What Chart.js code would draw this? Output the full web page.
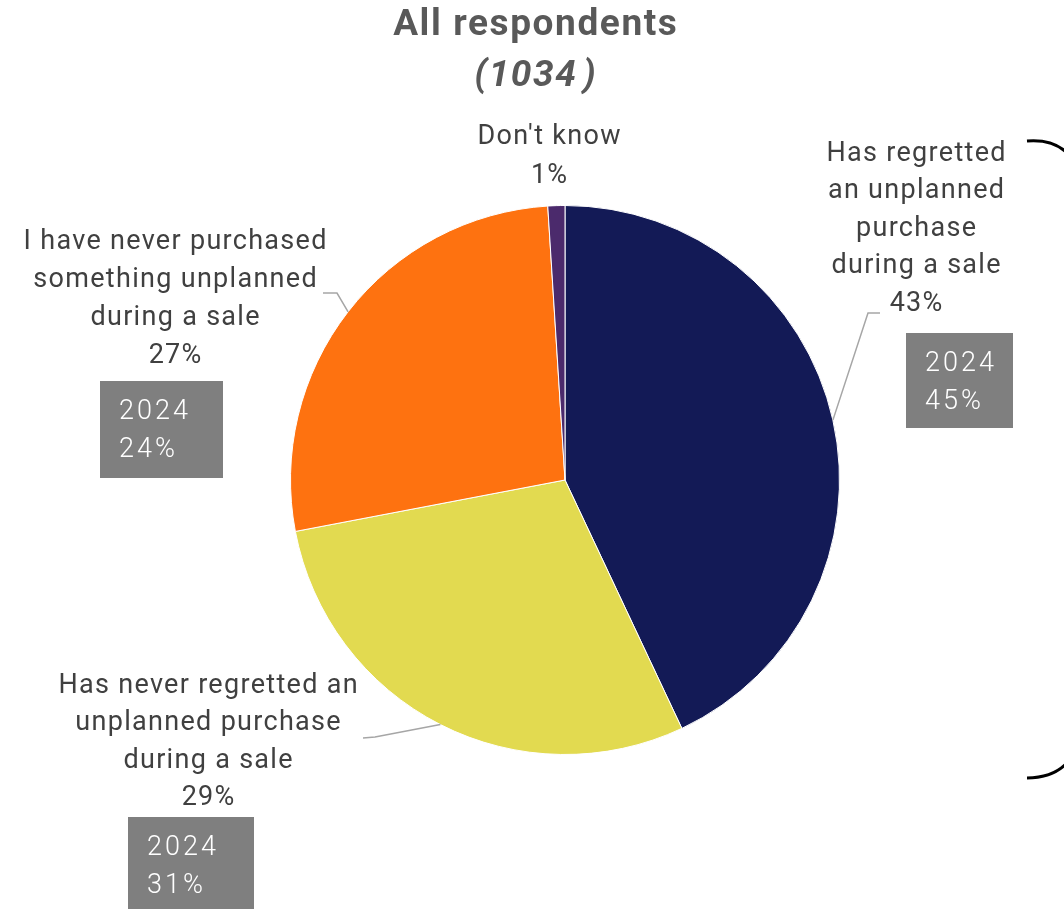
<!DOCTYPE html>
<html>
<head>
<meta charset="utf-8">
<script src="https://cdn.jsdelivr.net/npm/chart.js@4"></script>
<style>
  html, body { margin: 0; padding: 0; background: #fff; }
  #wrap { width: 1064px; height: 909px; position: relative; }
</style>
</head>
<body>
<div id="wrap"><canvas id="regret-pie"></canvas></div>
<script>
// survey shares, current wave and 2024 comparison
const categories = [
    "Has regretted an unplanned purchase during a sale",
    "Has never regretted an unplanned purchase during a sale",
    "I have never purchased something unplanned during a sale",
    "Don't know"
];
const labelLines = [
    ["Has regretted", "an unplanned", "purchase", "during a sale"],
    ["Has never regretted an", "unplanned purchase", "during a sale"],
    ["I have never purchased", "something unplanned", "during a sale"],
    ["Don't know"]
];
const shares = [43, 29, 27, 1];
const shares2024 = [45, 31, 24, null];
const sliceColors = ["#131a56", "#e2da50", "#fe7210", "#4b2a6c"];
const titleText = "All respondents";
const baseText = "(1034\u200A)";

const FONT = "Roboto, 'Noto Sans', sans-serif";

// where each label block sits, and the elbow of its leader line
const labelLayout = [
    { x: 916, y: 154, lh: 37.5, elbow: [868, 313], end: [880, 313], box: { x: 906, y: 333, w: 107, h: 95 } },
    { x: 208, y: 686, lh: 37.5, elbow: [375, 737], end: [363, 738], box: { x: 128, y: 817, w: 126, h: 95 } },
    { x: 175, y: 242, lh: 38, elbow: [337, 293], end: [323, 293], box: { x: 100, y: 381, w: 123, h: 97 } },
    { x: 549, y: 137, lh: 39, elbow: null, end: null, box: null }
];

// text with extra tracking, centred on x
function spacedText(ctx, text, x, y, spacing, align) {
    ctx.letterSpacing = spacing + 'px';
    const w = ctx.measureText(text).width - spacing;
    const left = align === 'left' ? x : x - w / 2;
    ctx.textAlign = 'left';
    ctx.fillText(text, left, y);
    ctx.letterSpacing = '0px';
}

const labelsPlugin = {
    id: 'sliceLabels',
    afterDraw(chart) {
        const ctx = chart.ctx;
        const arcs = chart.getDatasetMeta(0).data;
        ctx.save();
        ctx.textBaseline = 'middle';

        // title
        ctx.fillStyle = '#595959';
        ctx.font = "bold 37px " + FONT;
        spacedText(ctx, titleText, 535, 26, 1.6);
        ctx.font = "italic bold 37px " + FONT;
        spacedText(ctx, baseText, 535, 77, 1.6);

        arcs.forEach((arc, i) => {
            const lay = labelLayout[i];
            const lines = labelLines[i].concat([shares[i] + "%"]);

            // leader line from the middle of the slice edge
            if (lay.elbow) {
                const mid = (arc.startAngle + arc.endAngle) / 2;
                const sx = arc.x + Math.cos(mid) * arc.outerRadius;
                const sy = arc.y + Math.sin(mid) * arc.outerRadius;
                ctx.strokeStyle = '#a6a6a6';
                ctx.lineWidth = 1.5;
                ctx.beginPath();
                ctx.moveTo(sx, sy);
                ctx.lineTo(lay.elbow[0], lay.elbow[1]);
                ctx.lineTo(lay.end[0], lay.end[1]);
                ctx.stroke();
            }

            ctx.fillStyle = '#404040';
            ctx.font = "400 27px " + FONT;
            lines.forEach((t, k) => {
                spacedText(ctx, t, lay.x, lay.y + k * lay.lh, 1.3);
            });

            // 2024 comparison box
            if (lay.box && shares2024[i] !== null) {
                const b = lay.box;
                ctx.fillStyle = '#7f7f7f';
                ctx.fillRect(b.x, b.y, b.w, b.h);
                ctx.fillStyle = '#ffffff';
                ctx.font = "300 27px " + FONT;
                spacedText(ctx, "2024", b.x + 19, b.y + 31, 3, 'left');
                spacedText(ctx, shares2024[i] + "%", b.x + 19, b.y + 69, 3, 'left');
            }
        });

        // brace edges on the right
        ctx.strokeStyle = '#000';
        ctx.lineWidth = 3;
        ctx.beginPath();
        ctx.moveTo(1027, 141);
        ctx.quadraticCurveTo(1052, 139, 1066, 152);
        ctx.stroke();
        ctx.beginPath();
        ctx.moveTo(1027, 778);
        ctx.quadraticCurveTo(1052, 778, 1066, 764);
        ctx.stroke();

        ctx.restore();
    }
};

const canvas = document.getElementById("regret-pie");
const ctx = canvas.getContext("2d");
new Chart(ctx, {
    type: 'pie',
    data: {
        labels: categories,
        datasets: [{
            data: shares,
            backgroundColor: sliceColors,
            borderColor: '#ffffff',
            borderWidth: 1
        }]
    },
    options: {
        responsive: true,
        maintainAspectRatio: false,
        animation: false,
        layout: {
            padding: { left: 290, right: 224, top: 205, bottom: 154 }
        },
        plugins: {
            legend: { display: false },
            tooltip: { enabled: false },
            title: { display: false }
        }
    },
    plugins: [labelsPlugin]
});
</script>
</body>
</html>
